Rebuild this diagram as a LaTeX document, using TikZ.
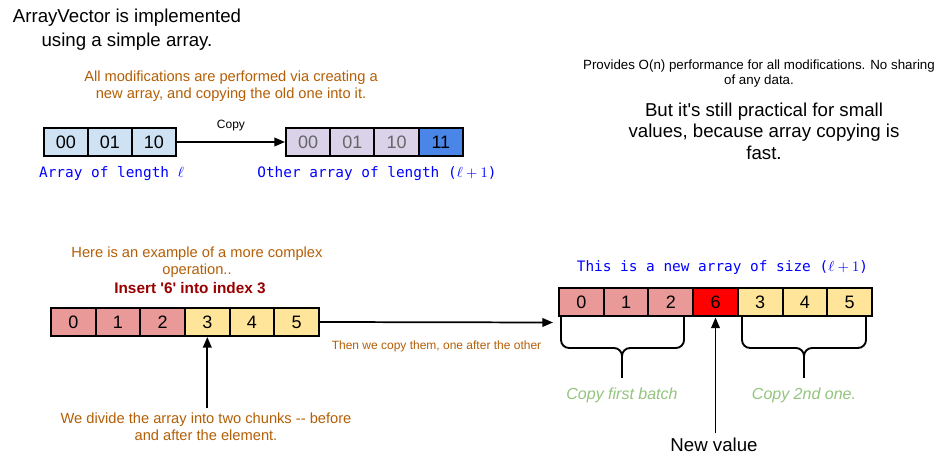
\documentclass[tikz,border=0pt]{standalone}
\usepackage{fontspec}
\setmainfont{Liberation Sans}
\newfontfamily\monofam{DejaVu Sans Mono}
\usetikzlibrary{arrows.meta,calc}
\definecolor{orng}{HTML}{B45F06}
\definecolor{dred}{HTML}{990000}
\definecolor{grn}{HTML}{93C47D}
\definecolor{blu}{HTML}{0000FF}
\definecolor{lblue}{HTML}{CFE2F3}
\definecolor{lpurp}{HTML}{D9D2E9}
\definecolor{mblue}{HTML}{4A86E8}
\definecolor{pinkc}{HTML}{EA9999}
\definecolor{yelc}{HTML}{FFE599}
\tikzset{
  cell/.style={draw=black, line width=1.5pt, minimum height=21pt, inner sep=0pt,
    font=\fontsize{13.5}{16}\selectfont, anchor=center},
  arr/.style={line width=1.3pt, -{Triangle[length=8pt,width=6.5pt]}},
  brc/.style={line width=1.4pt, rounded corners=6pt},
  orangetxt/.style={text=orng, align=center, font=\fontsize{11}{12.75}\selectfont},
  monotxt/.style={text=blu, font=\monofam\fontsize{10.8}{13}\selectfont},
  greentxt/.style={text=grn, font=\fontsize{12}{14}\selectfont\itshape},
}
\begin{document}
\begin{tikzpicture}[x=0.75pt,y=-0.75pt]
\useasboundingbox (0,0) rectangle (947,470);
\fill[white] (0,0) rectangle (947,470);

% titles and notes
\node[align=center, font=\fontsize{14}{18}\selectfont] (title) at (127,30)
  {ArrayVector is implemented\\using a simple array.};
\node[orangetxt] (allmod) at (231,86.5)
  {All modifications are performed via creating a\\new array, and copying the old one into it.};
\node[align=center, font=\fontsize{10}{11.25}\selectfont] (perf) at (759,73.5)
  {Provides O(n) performance for all modifications. No sharing\\of any data.};
\node[align=center, font=\fontsize{14}{16.1}\selectfont] (pract) at (764,131)
  {But it\textquotesingle s still practical for small\\values, because array copying is\\fast.};

% top arrays
\foreach \t [count=\i from 0] in {00,01,10} {
  \node[cell, fill=lblue, minimum width=33pt] (a\i) at (66+44*\i,142) {\t};
}
\foreach \t [count=\i from 0] in {00,01,10} {
  \node[cell, fill=lpurp, text=black!60, minimum width=33.2pt] (b\i) at (308.1+44.25*\i,142) {\t};
}
\node[cell, fill=mblue, minimum width=33.2pt] (b3) at (440.9,142) {11};
\draw[arr] (a2.east) -- (b0.west) node[midway, above=4pt, font=\fontsize{9}{10}\selectfont] (copy) {Copy};

\node[monotxt] (lab1) at (111.5,174) {Array of length $\ell$};
\node[monotxt] (lab2) at (377,174) {Other array of length ($\ell+1$)};

% bottom-left
\node[orangetxt] (example) at (197,262) {Here is an example of a more complex\\operation..};
\node[text=dred, font=\fontsize{11.5}{13}\selectfont\bfseries] (insert) at (190,288) {Insert \textquotesingle 6\textquotesingle\ into index 3};

\foreach \t [count=\i from 0] in {0,1,2} {
  \node[cell, fill=pinkc, minimum width=33.5pt] (c\i) at (73.3+44.67*\i,322) {\t};
}
\foreach \t [count=\i from 3] in {3,4,5} {
  \node[cell, fill=yelc, minimum width=33.5pt] (c\i) at (73.3+44.67*\i,322) {\t};
}

\node[orangetxt] (divide) at (206,427) {We divide the array into two chunks -{}- before\\and after the element.};
\draw[arr] (c3.south |- divide.north) -- (c3.south);

% right array
\node[monotxt] (lab3) at (722.5,268) {This is a new array of size ($\ell+1$)};
\foreach \t [count=\i from 0] in {0,1,2} {
  \node[cell, fill=pinkc, minimum width=33.5pt] (d\i) at (581.4+44.71*\i,302.5) {\t};
}
\node[cell, fill=red, minimum width=33.5pt] (d3) at (715.5,302.5) {6};
\foreach \t [count=\i from 4] in {3,4,5} {
  \node[cell, fill=yelc, minimum width=33.5pt] (d\i) at (581.4+44.71*\i,302.5) {\t};
}

\draw[arr] (c5.east) -- (553,322.5) node[pos=0.5, below=10pt, font=\fontsize{9}{10}\selectfont, text=orng] (then) {Then we copy them, one after the other};

% braces
\coordinate (bl1) at (561,317);
\coordinate (br1) at (684,317);
\coordinate (bt1) at (622,378);
\coordinate (bl2) at (742,317);
\coordinate (br2) at (866,317);
\coordinate (bt2) at (804,378);
\draw[brc] (bl1) -- (bl1 |- 0,348) -- (bt1 |- 0,348) -- (bt1);
\draw[brc] (br1) -- (br1 |- 0,348) -- (bt1 |- 0,348) -- (bt1);
\draw[brc] (bl2) -- (bl2 |- 0,348) -- (bt2 |- 0,348) -- (bt2);
\draw[brc] (br2) -- (br2 |- 0,348) -- (bt2 |- 0,348) -- (bt2);

\node[greentxt] (cfirst) at (622,395) {Copy first batch};
\node[greentxt] (csecond) at (804,395) {Copy 2nd one.};

\node[font=\fontsize{14}{16}\selectfont] (newv) at (714,445) {New value};
\draw[arr] (d3.south |- newv.north) -- (d3.south);
\end{tikzpicture}
\end{document}
